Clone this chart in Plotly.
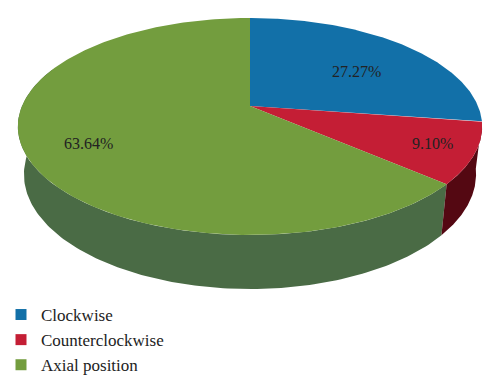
import numpy as np
import plotly.graph_objects as go

categories = ["Clockwise", "Counterclockwise", "Axial position"]
values = [27.27, 9.10, 63.64]
top_colors = ["#1270a8", "#c41e35", "#739d3e"]
side_colors = ["#0b4a70", "#540812", "#4a6b45"]

# Projection of the tilted disc on to the page (pixel axes)
CX, AY, XS, YS, K = 250.0, 106.0, 228.0, 104.6, -0.189
B_CX, B_AY, B_XS, B_YS = 250.0, 152.6, 222.0, 110.6
SERIF = "Liberation Serif"


def rim(deg, cx, ay, xs, ys):
    t = np.radians(deg)
    u, v = np.sin(t), -np.cos(t)
    d = 1 + K * v
    return cx + xs * u / d, ay + ys * v / d


total = sum(values)
edges = np.concatenate([[0], np.cumsum(values) / total * 360])

fig = go.Figure()

# Side walls, furthest first
for i in [2, 1]:
    a0, a1 = edges[i], min(edges[i + 1], 292)
    ang = np.linspace(a0, a1, 160)
    tx, ty = rim(ang, CX, AY, XS, YS)
    bx, by = rim(ang, B_CX, B_AY, B_XS, B_YS)
    fig.add_trace(go.Scatter(
        x=np.concatenate([tx, bx[::-1]]), y=np.concatenate([ty, by[::-1]]),
        mode="lines", fill="toself", fillcolor=side_colors[i],
        line=dict(width=0, color=side_colors[i]), hoverinfo="skip", showlegend=False))

# Top wedges
for i, c in enumerate(categories):
    ang = np.linspace(edges[i], edges[i + 1], 240)
    tx, ty = rim(ang, CX, AY, XS, YS)
    fig.add_trace(go.Scatter(
        x=np.concatenate([[CX], tx, [CX]]), y=np.concatenate([[AY], ty, [AY]]),
        mode="lines", fill="toself", fillcolor=top_colors[i],
        line=dict(width=0, color=top_colors[i]), name=c, showlegend=False))

# Legend entries
for i, c in enumerate(categories):
    fig.add_trace(go.Scatter(
        x=[None], y=[None], mode="markers", name=c, legendgroup=c,
        marker=dict(symbol="square", size=11, color=top_colors[i])))

label_pos = [(356.5, 71), (432.5, 143), (88, 143)]
for (lx, ly), v in zip(label_pos, values):
    fig.add_annotation(x=lx, y=ly, text=f"{v:.2f}%", showarrow=False,
                       font=dict(family=SERIF, size=16, color="#222222"))

fig.update_layout(
    width=500, height=390, margin=dict(l=0, r=0, t=0, b=0, autoexpand=False),
    paper_bgcolor="white", plot_bgcolor="white",
    xaxis=dict(range=[0, 500], visible=False, fixedrange=True),
    yaxis=dict(range=[390, 0], visible=False, fixedrange=True),
    legend=dict(x=0.002, y=0.018, xanchor="left", yanchor="bottom",
                font=dict(family=SERIF, size=17, color="#222222"),
                tracegroupgap=0, itemwidth=30, bgcolor="rgba(0,0,0,0)"),
)
fig.write_html("out.html", config={"displayModeBar": False},
               post_script="document.body.style.margin='0';")
